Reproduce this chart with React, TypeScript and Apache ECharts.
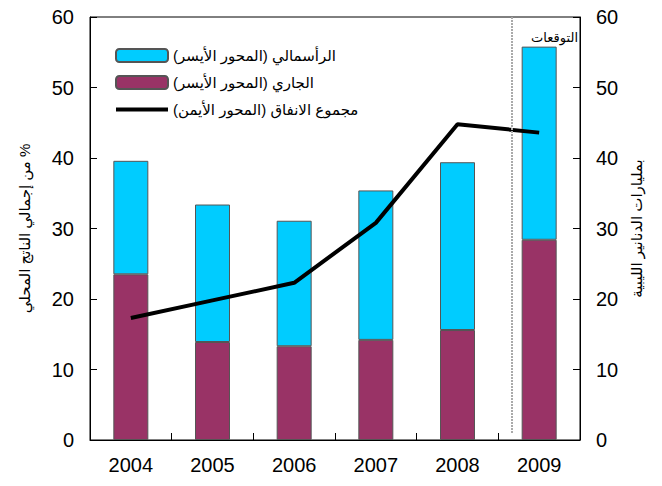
import * as echarts from "echarts";
import { useEffect, useRef } from "react";

// 数据
const years = ["2004", "2005", "2006", "2007", "2008", "2009"];
const currentSpending = [23.5, 13.9, 13.3, 14.2, 15.6, 28.4];
const capitalSpending = [16.1, 19.5, 17.8, 21.2, 23.8, 27.4];
const totalSpending = [17.3, 19.8, 22.3, 30.8, 44.8, 43.6];
const forecastSplit = 5.17; // position of the forecast divider, in category units

const RLM = "\u200F";
const rtl = (s: string) => RLM + s + RLM;

const capitalName = rtl("الرأسمالي (المحور الأيسر)");
const currentName = rtl("الجاري (المحور الأيسر)");
const totalName = rtl("مجموع الانفاق (المحور الأيمن)");
const leftAxisName = rtl("% من إجمالي الناتج المحلي");
const rightAxisName = rtl("بمليارات الدنانير الليبية");
const forecastLabel = "التوقعات";

const FONT = "'Liberation Sans', Arial, 'DejaVu Sans', sans-serif";

export default function App() {
  const chartRef = useRef<HTMLDivElement | null>(null);

  useEffect(() => {
    if (!chartRef.current) return;
    const chart = echarts.init(chartRef.current, undefined, { renderer: "svg" });

    const valueAxis = (position: "left" | "right", name: string, gap: number) => ({
      type: "value",
      position,
      min: 0,
      max: 60,
      interval: 10,
      name,
      nameLocation: "middle",
      nameRotate: 90,
      nameGap: gap,
      nameTextStyle: { fontSize: 15, color: "#000", fontFamily: FONT },
      axisLine: { show: true, lineStyle: { color: "#000", width: 1 } },
      axisTick: { show: true, inside: true, length: 7, lineStyle: { color: "#000" } },
      axisLabel: { fontSize: 20, color: "#000", fontFamily: FONT, margin: 16 },
      splitLine: { show: false },
    });

    chart.setOption({
      animation: false,
      textStyle: { fontFamily: FONT },
      grid: {
        left: 90,
        right: 82,
        top: 17,
        bottom: 46,
        show: true,
        borderColor: "#000",
        borderWidth: 1,
      },
      legend: {
        orient: "vertical",
        left: 110,
        top: 43,
        itemWidth: 52,
        itemHeight: 13,
        itemGap: 12,
        textStyle: { fontSize: 15, color: "#000", fontFamily: FONT },
        data: [
          { name: capitalName },
          { name: currentName },
          { name: totalName, icon: "path://M0,0 L52,0 L52,4 L0,4 Z" },
        ],
      },
      xAxis: [
        {
          type: "category",
          data: years,
          axisLine: { show: true, lineStyle: { color: "#000", width: 1 } },
          axisTick: { show: true, inside: true, length: 7, lineStyle: { color: "#000" } },
          axisLabel: { fontSize: 20, color: "#000", fontFamily: FONT, margin: 15 },
        },
        { type: "value", min: 0, max: 6, show: false },
      ],
      yAxis: [valueAxis("left", leftAxisName, 58), valueAxis("right", rightAxisName, 48)],
      series: [
        {
          name: currentName,
          type: "bar",
          stack: "spending",
          barWidth: 35,
          data: currentSpending,
          itemStyle: { color: "#993366", borderColor: "#555", borderWidth: 1 },
        },
        {
          name: capitalName,
          type: "bar",
          stack: "spending",
          barWidth: 35,
          data: capitalSpending,
          itemStyle: { color: "#00CCFF", borderColor: "#555", borderWidth: 1 },
        },
        {
          name: totalName,
          type: "line",
          yAxisIndex: 1,
          data: totalSpending,
          symbol: "none",
          lineStyle: { color: "#000", width: 4 },
          itemStyle: { color: "#000" },
        },
        {
          type: "line",
          xAxisIndex: 1,
          data: [],
          markLine: {
            silent: true,
            symbol: "none",
            label: { show: false },
            lineStyle: { color: "#aaa", width: 2, type: [2, 1] },
            data: [[{ coord: [forecastSplit, 1] }, { coord: [forecastSplit, 60] }]],
          },
        },
      ],
      graphic: [
        {
          type: "text",
          right: 84,
          top: 31,
          style: { text: forecastLabel, fontSize: 13, fill: "#000", fontFamily: FONT },
        },
      ],
    });

    return () => {
      chart.dispose();
    };
  }, []);

  return (
    <div
      ref={chartRef}
      style={{ position: "fixed", left: 0, top: 0, width: 662, height: 486, background: "#fff" }}
    />
  );
}
